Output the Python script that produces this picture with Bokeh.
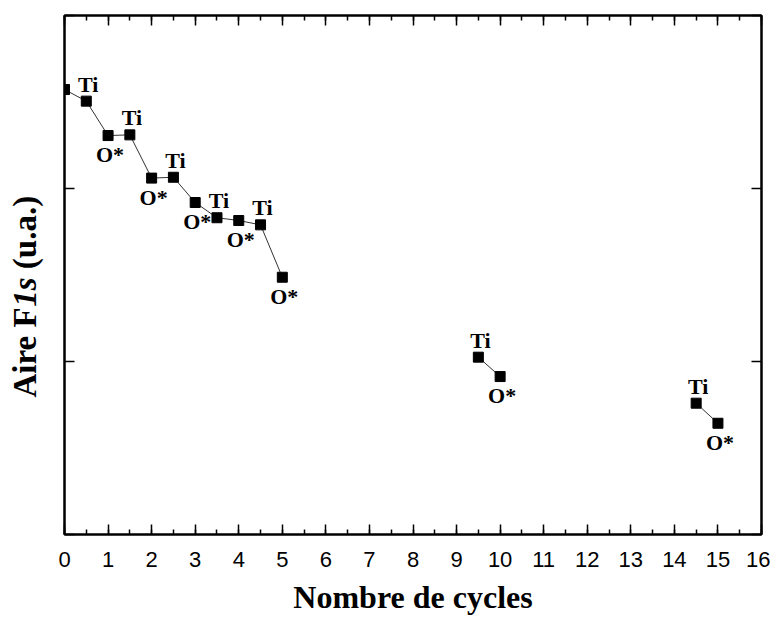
from bokeh.plotting import figure
from bokeh.models import (Range1d, LinearAxis, SingleIntervalTicker, FixedTicker,
                          ColumnDataSource)
from bokeh.layouts import row, column
from bokeh.core.properties import value
from bokeh.embed import file_html
from bokeh.resources import INLINE

# --- data ---
cycles = [0, 0.5, 1, 1.5, 2, 2.5, 3, 3.5, 4, 4.5, 5, 9.5, 10, 14.5, 15]
area = [2.572, 2.505, 2.306, 2.310, 2.060, 2.065, 1.919, 1.831, 1.815, 1.790,
        1.487, 1.025, 0.913, 0.759, 0.643]
segment = [0, 0, 0, 0, 0, 0, 0, 0, 0, 0, 0, 1, 1, 2, 2]
point_labels = ["", "Ti", "O*", "Ti", "O*", "Ti", "O*", "Ti", "O*", "Ti",
                "O*", "Ti", "O*", "Ti", "O*"]
y_ticks = [0, 1, 2, 3]
x_title = "Nombre de cycles"
y_title_parts = ["Aire F", "1s", "(u.a.)"]
y_title_styles = ["bold", "bold italic", "bold"]

# layout (px)
TOTAL_W, TOTAL_H = 770, 615
YLAB_W = 44
FRAME_L, FRAME_R, FRAME_T, FRAME_B = 64, 761, 15, 534
MAIN_H = 575
XLAB_H = TOTAL_H - MAIN_H

x_range = Range1d(0, 16)
y_range = Range1d(0, 3)

def bare(fig):
    fig.grid.visible = False
    fig.outline_line_color = None
    fig.background_fill_color = "white"
    fig.border_fill_color = "white"

# ---------------- main plot ----------------
p = figure(width=TOTAL_W - YLAB_W, height=MAIN_H, output_backend="svg",
           toolbar_location=None, x_range=x_range, y_range=y_range,
           min_border_left=FRAME_L - YLAB_W, min_border_right=TOTAL_W - FRAME_R,
           min_border_top=FRAME_T, min_border_bottom=MAIN_H - FRAME_B,
           x_axis_location=None, y_axis_location=None)
p.grid.visible = False
p.outline_line_color = "black"
p.outline_line_width = 2
p.background_fill_color = "white"
p.border_fill_color = "white"

for s in sorted(set(segment)):
    xs = [c for c, g in zip(cycles, segment) if g == s]
    ys = [a for a, g in zip(area, segment) if g == s]
    p.line(xs, ys, line_color="#333333", line_width=1)

p.scatter(cycles, area, marker="square", size=10, fill_color="black",
          line_color="black")

ti_src = ColumnDataSource(dict(
    x=[c for c, l in zip(cycles, point_labels) if l == "Ti"],
    y=[a for a, l in zip(area, point_labels) if l == "Ti"],
    t=[l for l in point_labels if l == "Ti"]))
o_src = ColumnDataSource(dict(
    x=[c for c, l in zip(cycles, point_labels) if l == "O*"],
    y=[a for a, l in zip(area, point_labels) if l == "O*"],
    t=[l for l in point_labels if l == "O*"]))
p.text(x="x", y="y", text="t", source=ti_src, text_font=value("Liberation Serif"),
       text_font_style="bold", text_font_size="22px", text_align="center",
       text_baseline="middle", x_offset=2, y_offset=-17, text_color="black")
p.text(x="x", y="y", text="t", source=o_src, text_font=value("Liberation Serif"),
       text_font_style="bold", text_font_size="22px", text_align="center",
       text_baseline="middle", x_offset=2, y_offset=19, text_color="black")

def style(ax):
    ax.axis_line_color = "black"
    ax.axis_line_width = 2
    ax.major_tick_line_color = "black"
    ax.major_tick_line_width = 1.5
    ax.minor_tick_line_color = "black"
    ax.minor_tick_line_width = 1.5
    ax.major_tick_in = 10
    ax.major_tick_out = 0
    ax.minor_tick_in = 5
    ax.minor_tick_out = 0

def hide_labels(ax):
    ax.major_label_text_font_size = "0px"
    ax.major_label_text_color = None
    ax.major_label_standoff = 0

xb = LinearAxis(ticker=SingleIntervalTicker(interval=1, num_minor_ticks=2))
style(xb)
xb.major_label_text_font = "Liberation Sans"
xb.major_label_text_font_size = "22px"
xb.major_label_text_color = "black"
xb.major_label_standoff = 17
p.add_layout(xb, "below")

xt = LinearAxis(ticker=SingleIntervalTicker(interval=1, num_minor_ticks=2))
style(xt)
hide_labels(xt)
p.add_layout(xt, "above")

yl = LinearAxis(ticker=FixedTicker(ticks=y_ticks, minor_ticks=[]))
style(yl)
hide_labels(yl)
p.add_layout(yl, "left")

yr = LinearAxis(ticker=FixedTicker(ticks=y_ticks, minor_ticks=[]))
style(yr)
hide_labels(yr)
p.add_layout(yr, "right")

# ---------------- y title (mixed bold / bold italic) ----------------
ylab = figure(width=YLAB_W, height=MAIN_H, output_backend="svg",
              toolbar_location=None, x_range=Range1d(0, YLAB_W), y_range=y_range,
              min_border_left=0, min_border_right=0, min_border_top=FRAME_T,
              min_border_bottom=MAIN_H - FRAME_B,
              x_axis_location=None, y_axis_location=None)
bare(ylab)
fs = 33
px_per_unit = (FRAME_B - FRAME_T) / 3.0
widths_px = [2.749 * fs, (0.889 + 0.25) * fs]  # Times-bold metrics
start = (FRAME_B - 397) / px_per_unit
offs = [0, widths_px[0], widths_px[0] + widths_px[1]]
for part, st, off in zip(y_title_parts, y_title_styles, offs):
    ylab.text(x=[24], y=[start + off / px_per_unit], text=[part],
              text_font=value("Liberation Serif"), text_font_style=st,
              text_font_size=f"{fs}px", angle=1.5707963, text_align="left",
              text_baseline="middle", text_color="black")

# ---------------- x title ----------------
xlab = figure(width=TOTAL_W, height=XLAB_H, output_backend="svg",
              toolbar_location=None, x_range=x_range, y_range=Range1d(0, XLAB_H),
              min_border_left=FRAME_L, min_border_right=TOTAL_W - FRAME_R,
              min_border_top=0, min_border_bottom=0,
              x_axis_location=None, y_axis_location=None)
bare(xlab)
xlab.text(x=[8], y=[1], text=[x_title], text_font=value("Liberation Serif"),
          text_font_style="bold", text_font_size="32px", text_align="center",
          text_baseline="bottom", text_color="black")

layout = column(row(ylab, p, spacing=0), xlab, spacing=0)
open("out.html", "w").write(file_html(layout, INLINE))
